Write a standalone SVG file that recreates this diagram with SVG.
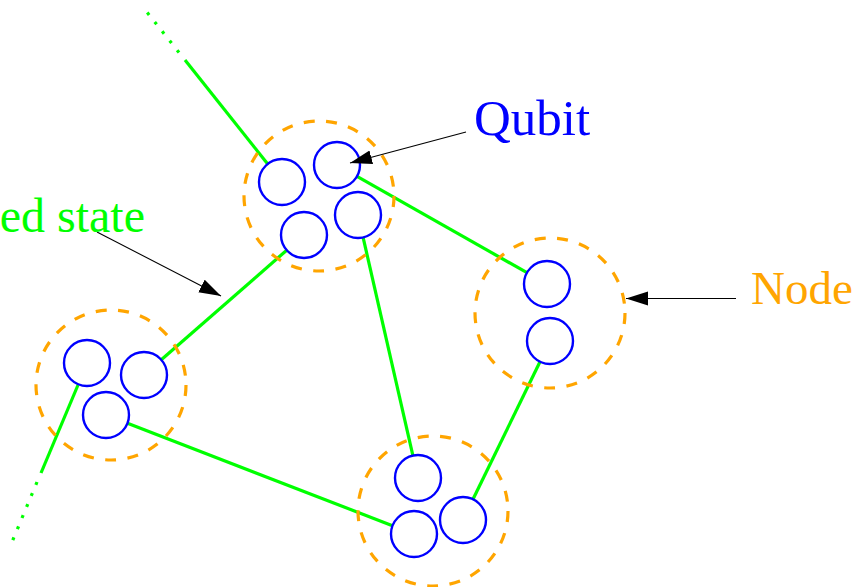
<svg xmlns="http://www.w3.org/2000/svg" width="864" height="587" viewBox="0 0 864 587">
<style>
.node{fill:none;stroke:#ffa500;stroke-width:3.2;stroke-dasharray:11 11.5}
.q{fill:none;stroke:#0000ff;stroke-width:2.4}
.e{stroke:#00ff00;stroke-width:3.2;fill:none}
.dot{stroke:#00ff00;stroke-width:3.2;fill:none;stroke-dasharray:3 9}
.arr{stroke:#000;stroke-width:1.1;fill:none;marker-end:url(#ah)}
.lbl{font-family:"Liberation Serif","Times New Roman",serif;font-size:48px}
</style>
<defs>
<marker id="ah" markerUnits="userSpaceOnUse" markerWidth="24" markerHeight="16" refX="22" refY="7" orient="auto">
<path d="M0,0 L22,7 L0,14 Z" fill="#000"/>
</marker>
</defs>
<rect width="864" height="587" fill="#fff"/>
<g id="connectors">
<line class="e" x1="357" y1="176.3" x2="527" y2="272.7"/>
<line class="e" x1="286.7" y1="250.2" x2="161.3" y2="359.8"/>
<line class="e" x1="363.1" y1="237.4" x2="412.9" y2="455.6"/>
<line class="e" x1="540" y1="361.7" x2="473" y2="499.3"/>
<line class="e" x1="127.5" y1="423.3" x2="392.5" y2="525.7"/>
<line class="e" x1="267.7" y1="164" x2="185" y2="60"/>
<line class="dot" x1="179" y1="52.5" x2="146" y2="11"/>
<line class="e" x1="78" y1="385" x2="41" y2="473"/>
<line class="dot" x1="37" y1="482" x2="12" y2="542"/>
</g>
<g id="node1">
<circle class="node" cx="319" cy="196" r="75"/>
<circle class="q" cx="282" cy="182" r="23"/>
<circle class="q" cx="337" cy="165" r="23"/>
<circle class="q" cx="358" cy="215" r="23"/>
<circle class="q" cx="304" cy="235" r="23"/>
</g>
<g id="node2">
<circle class="node" cx="111" cy="385" r="75"/>
<circle class="q" cx="87" cy="363" r="23"/>
<circle class="q" cx="144" cy="375" r="23"/>
<circle class="q" cx="106" cy="415" r="23"/>
</g>
<g id="node3">
<circle class="node" cx="433" cy="511" r="75"/>
<circle class="q" cx="418" cy="478" r="23"/>
<circle class="q" cx="414" cy="534" r="23"/>
<circle class="q" cx="463" cy="520" r="23"/>
</g>
<g id="node4">
<circle class="node" cx="550" cy="313" r="75"/>
<circle class="q" cx="547" cy="284" r="23"/>
<circle class="q" cx="550" cy="341" r="23"/>
</g>
<g id="annotations">
<line class="arr" x1="466" y1="132" x2="350" y2="163"/>
<line class="arr" x1="97" y1="232" x2="221" y2="296"/>
<line class="arr" x1="736" y1="298.5" x2="626" y2="298.5"/>
<text class="lbl" x="474" y="135" fill="#0000ff" style="font-size:51px">Qubit</text>
<text class="lbl" x="751" y="304" fill="#ffa500" style="font-size:47px">Node</text>
<text class="lbl" x="145" y="232" fill="#00ff00" text-anchor="end">ed state</text>
</g>
</svg>
